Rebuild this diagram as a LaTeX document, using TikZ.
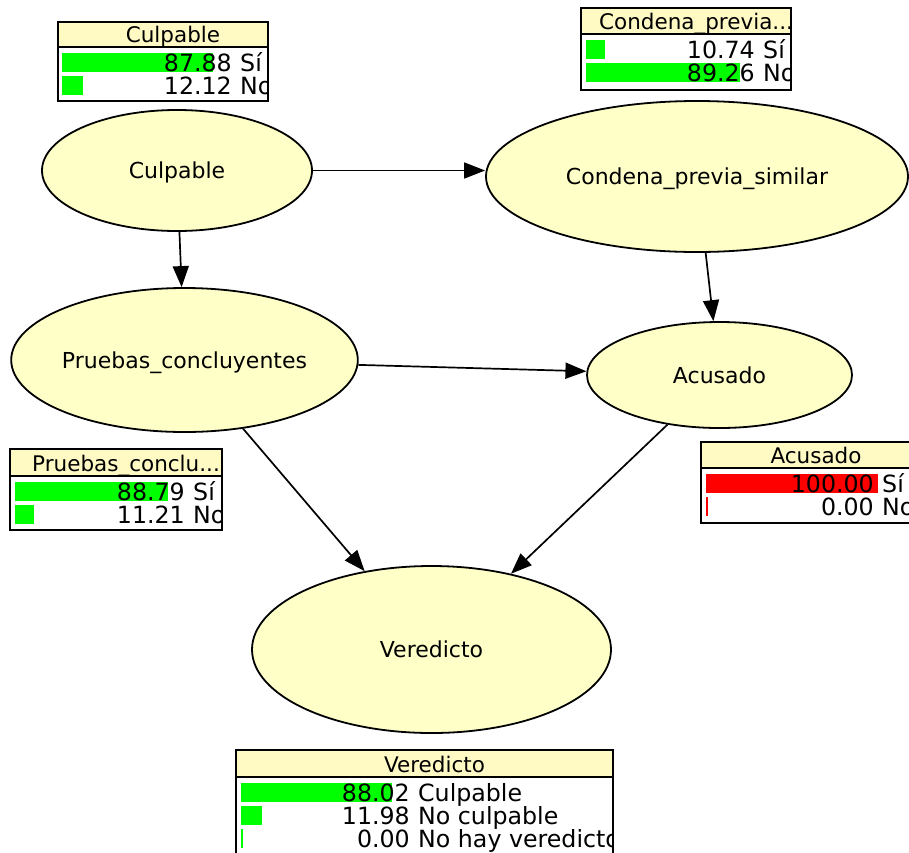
\documentclass[tikz,border=0pt]{standalone}
\usepackage{fontspec}
\setmainfont{DejaVu Sans}
\usetikzlibrary{shapes.geometric,arrows.meta}
\definecolor{nodefill}{RGB}{255,255,200}
\definecolor{headfill}{RGB}{255,250,196}
\definecolor{bargreen}{RGB}{0,255,0}
\definecolor{barred}{RGB}{255,0,0}
\begin{document}
\begin{tikzpicture}[x=1pt,y=-1pt,
  bn/.style={ellipse, draw=black, line width=1.8pt, fill=nodefill, inner sep=0pt, text height=16pt, text depth=0pt, font=\fontsize{22}{26}\selectfont},
  edge/.style={line width=1.7pt, -{Triangle[length=21pt,width=16pt]}},
  title/.style={inner sep=0pt, anchor=base, font=\fontsize{21.5}{25}\selectfont},
  num/.style={inner sep=0pt, anchor=base east, font=\fontsize{23.7}{28}\selectfont},
  lab/.style={inner sep=0pt, anchor=base west, font=\fontsize{23.7}{28}\selectfont},
  boxline/.style={draw=black, line width=1.5pt},
]
\clip (0,0) rectangle (909,852);
\fill[white] (0,0) rectangle (909,852);

% ellipses
\node[bn, minimum width=270pt, minimum height=121pt] (cul) at (177,170.5) {Culpable};
\node[bn, minimum width=422pt, minimum height=151pt] (con) at (697,176.5) {Condena\_previa\_similar};
\node[bn, minimum width=345pt, minimum height=144pt] (pru) at (184.5,360) {Pruebas\_concluyentes};
\node[bn, minimum width=265pt, minimum height=106pt] (acu) at (719.5,375) {Acusado};
\node[bn, minimum width=359pt, minimum height=167pt] (ver) at (431.5,649.5) {Veredicto};

% edges
\draw[edge] (cul.east) -- (cul.east -| con.west);
\draw[edge] (cul) -- (pru);
\draw[edge] (con) -- (acu);
\draw[edge] (pru) -- (acu);
\draw[edge] (pru) -- (ver);
\draw[edge] (acu) -- (ver);

% Culpable box
\begin{scope}
\clip (58,22) rectangle (268,101);
\fill[headfill] (58,22) rectangle (268,47);
\fill[white] (58,47) rectangle (268,101);
\fill[bargreen] (62,53) rectangle ++(151.2,19);
\fill[bargreen] (62,76) rectangle ++(20.8,19);
\node[title] (tcul) at (173,42) {Culpable};
\node[num] (ncul1) at (232,71) {87.88};
\node[lab] (lcul1) at (240,71) {Sí};
\node[num] (ncul2) at (232,94) {12.12};
\node[lab] (lcul2) at (240,94) {No};
\end{scope}
\draw[boxline] (58,22) rectangle (268,101);
\draw[boxline] (58,47) -- (268,47);

% Condena box
\begin{scope}
\clip (581,8) rectangle (791,90);
\fill[headfill] (581,8) rectangle (791,34);
\fill[white] (581,34) rectangle (791,90);
\fill[bargreen] (586,40) rectangle ++(18.5,19);
\fill[bargreen] (586,63) rectangle ++(153.5,19);
\node[title] (tcon) at (696,29) {Condena\_previa...};
\node[num] (ncon1) at (755,58) {10.74};
\node[lab] (lcon1) at (763,58) {Sí};
\node[num] (ncon2) at (755,81) {89.26};
\node[lab] (lcon2) at (763,81) {No};
\end{scope}
\draw[boxline] (581,8) rectangle (791,90);
\draw[boxline] (581,34) -- (791,34);

% Pruebas box
\begin{scope}
\clip (10,449) rectangle (222,530);
\fill[headfill] (10,449) rectangle (222,476);
\fill[white] (10,476) rectangle (222,530);
\fill[bargreen] (15,482) rectangle ++(152.7,19);
\fill[bargreen] (15,505) rectangle ++(19.3,19);
\node[title] (tpru) at (126,471) {Pruebas\_conclu...};
\node[num] (npru1) at (185,500) {88.79};
\node[lab] (lpru1) at (193,500) {Sí};
\node[num] (npru2) at (185,523) {11.21};
\node[lab] (lpru2) at (193,523) {No};
\end{scope}
\draw[boxline] (10,449) rectangle (222,530);
\draw[boxline] (10,476) -- (222,476);

% Acusado box
\begin{scope}
\clip (701,442) rectangle (911,523);
\fill[headfill] (701,442) rectangle (911,468);
\fill[white] (701,468) rectangle (911,523);
\fill[barred] (706,474) rectangle ++(172,19);
\fill[barred] (706,497) rectangle ++(1.5,19);
\node[title] (tacu) at (816,463) {Acusado};
\node[num] (nacu1) at (874,492) {100.00};
\node[lab] (lacu1) at (882,492) {Sí};
\node[num] (nacu2) at (874,515) {0.00};
\node[lab] (lacu2) at (882,515) {No};
\end{scope}
\draw[boxline] (701,442) rectangle (911,523);
\draw[boxline] (701,468) -- (911,468);

% Veredicto box
\begin{scope}
\clip (236,750) rectangle (613,860);
\fill[headfill] (236,750) rectangle (613,777);
\fill[white] (236,777) rectangle (613,860);
\fill[bargreen] (241,783) rectangle ++(151.4,19);
\fill[bargreen] (241,806) rectangle ++(20.6,19);
\fill[bargreen] (241,829) rectangle ++(1.5,19);
\node[title] (tver) at (434.5,772) {Veredicto};
\node[num] (nver1) at (410,801) {88.02};
\node[lab] (lver1) at (418,801) {Culpable};
\node[num] (nver2) at (410,824) {11.98};
\node[lab] (lver2) at (418,824) {No culpable};
\node[num] (nver3) at (410,847) {0.00};
\node[lab] (lver3) at (418,847) {No hay veredicto};
\end{scope}
\draw[boxline] (236,750) rectangle (613,860);
\draw[boxline] (236,777) -- (613,777);
\end{tikzpicture}
\end{document}
